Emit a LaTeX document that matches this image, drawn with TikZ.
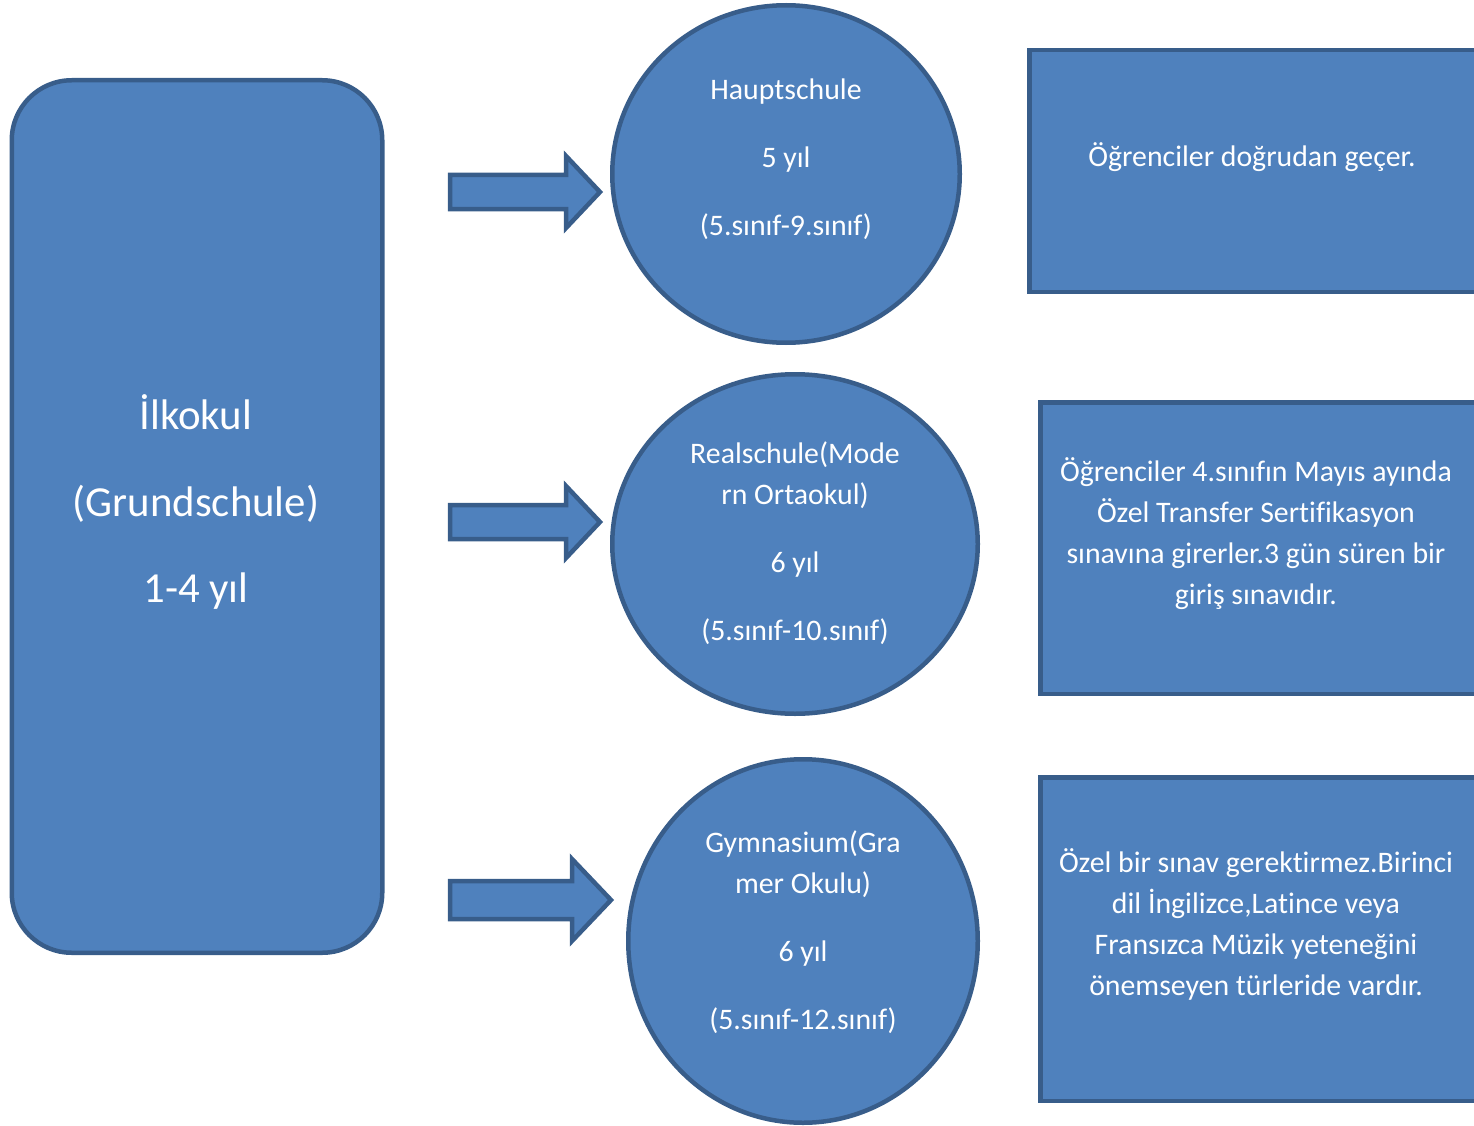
\documentclass[tikz,border=0pt]{standalone}
\usepackage{fontspec}
\setmainfont{Carlito}[Ligatures={NoCommon}]
\usetikzlibrary{shapes.geometric}
\definecolor{shapefill}{HTML}{4F81BD}
\definecolor{shapeline}{HTML}{385D8A}
\tikzset{
  shp/.style={draw=shapeline, fill=shapefill, line width=4.5pt, inner sep=0pt, outer sep=0pt},
  oval/.style={shp, ellipse},
  arrowshape/.style={draw=shapeline, fill=shapefill, line width=4.5pt, line join=miter},
  txt/.style={text=white, align=center, inner sep=0pt, font=\fontsize{29.8}{41}\selectfont},
  bigtxt/.style={text=white, align=center, inner sep=0pt, font=\fontsize{42.8}{86.5}\selectfont}
}
\begin{document}
\begin{tikzpicture}[x=1pt,y=-1pt]
\useasboundingbox (0,0) rectangle (1474,1126);
\clip (0,0) rectangle (1474,1126);
% left rounded box
\node[shp, rounded corners=60pt, minimum width=370.5pt, minimum height=872.5pt] (ilk) at (197,516.5) {};
\node[bigtxt] (ilkt) at (196,502) {İlkokul\\(Grundschule)\\1-4 yıl};
% arrows
\draw[arrowshape] (450,175) -- (566,175) -- (566,156) -- (600,192) -- (566,228) -- (566,209) -- (450,209) -- cycle;
\draw[arrowshape] (450,505) -- (566,505) -- (566,486) -- (600,522) -- (566,558) -- (566,539) -- (450,539) -- cycle;
\draw[arrowshape] (450,881) -- (572,881) -- (572,859) -- (611,900) -- (572,941) -- (572,919) -- (450,919) -- cycle;
% circles
\node[oval, minimum width=347.5pt, minimum height=337.5pt] (hs) at (786,174) {};
\node[txt] (hst) at (786,159.5) {Hauptschule\\[27pt]5 yıl\\[27pt](5.sınıf-9.sınıf)};
\node[oval, minimum width=365.5pt, minimum height=339.5pt] (rs) at (795,544) {};
\node[txt] (rst) at (795,543.5) {Realschule(Mode\\rn Ortaokul)\\[27pt]6 yıl\\[27pt](5.sınıf-10.sınıf)};
\node[oval, minimum width=349.5pt, minimum height=363.5pt] (gy) at (803,941) {};
\node[txt] (gyt) at (803,932.5) {Gymnasium(Gra\\mer Okulu)\\[27pt]6 yıl\\[27pt](5.sınıf-12.sınıf)};
% right boxes
\node[shp, anchor=north west, minimum width=470pt, minimum height=241.5pt] (b1) at (1029.25,50.25) {};
\node[txt] (b1t) at (1252,157) {Öğrenciler doğrudan geçer.};
\node[shp, anchor=north west, minimum width=460pt, minimum height=291.5pt] (b2) at (1040.25,402.25) {};
\node[txt] (b2t) at (1256,534) {Öğrenciler 4.sınıfın Mayıs ayında\\Özel Transfer Sertifikasyon\\sınavına girerler.3 gün süren bir\\giriş sınavıdır.};
\node[shp, anchor=north west, minimum width=460pt, minimum height=323.5pt] (b3) at (1040.25,777.25) {};
\node[txt] (b3t) at (1256,924.5) {Özel bir sınav gerektirmez.Birinci\\dil İngilizce,Latince veya\\Fransızca Müzik yeteneğini\\önemseyen türleride vardır.};
\end{tikzpicture}
\end{document}
